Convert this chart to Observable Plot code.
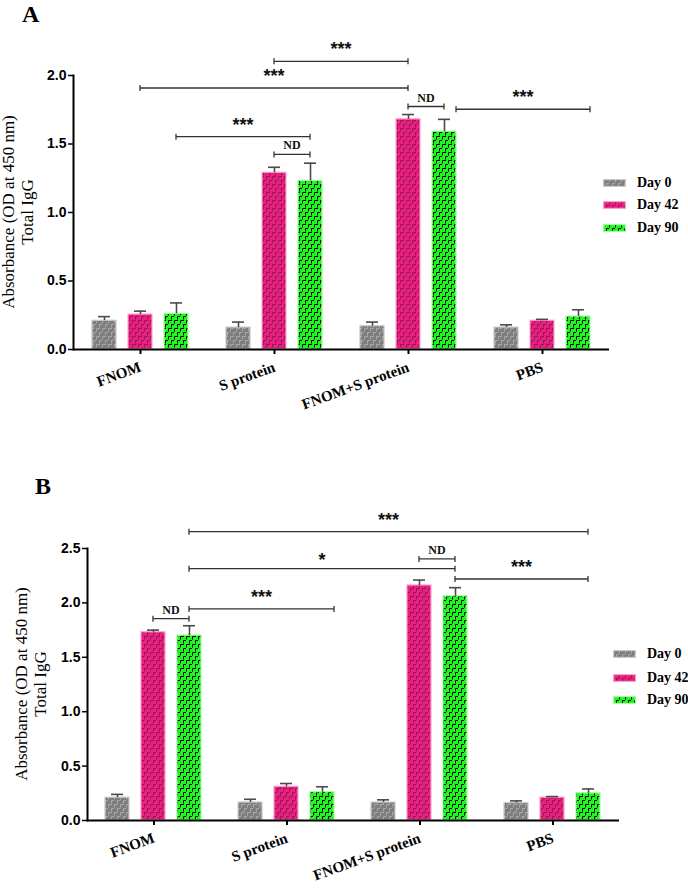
<!DOCTYPE html>
<html>
<head>
<meta charset="utf-8">
<script src="https://cdn.jsdelivr.net/npm/d3@7"></script>
<script src="https://cdn.jsdelivr.net/npm/@observablehq/plot@0.6"></script>
<style>
  html, body { margin: 0; padding: 0; background: #fff; }
  #wrap { position: relative; width: 688px; height: 891px; overflow: hidden; background: #fff; }
  .abs { position: absolute; }
  .letter { font-family: "Liberation Serif", serif; font-weight: bold; font-size: 24px; line-height: 1; }
  .ytitle { font-family: "Liberation Serif", serif; font-size: 17px; line-height: 19px; text-align: center;
            white-space: nowrap; transform: translate(-50%, -50%) rotate(-90deg); }
  .leg { font-family: "Liberation Serif", serif; font-weight: bold; font-size: 14px; display: flex; align-items: center;
         transform: translateY(-50%); white-space: nowrap; }
  .leg svg { margin-right: 11px; }
</style>
</head>
<body>
<svg width="0" height="0" style="position:absolute">
  <defs>
    <pattern id="pat0" patternUnits="userSpaceOnUse" width="6" height="8">
      <rect width="6" height="8" fill="#7e7e7e"/>
      <path d="M0.5 0.5h3.5M0.5 0.5v3M3.5 4.5h3.5M3.5 4.5v3" stroke="#a9a9a9" stroke-width="1" fill="none"/>
    </pattern>
    <pattern id="pat42" patternUnits="userSpaceOnUse" width="6" height="8">
      <rect width="6" height="8" fill="#ea1f80"/>
      <path d="M0.5 0.5h3.5M0.5 0.5v3M3.5 4.5h3.5M3.5 4.5v3" stroke="#8e1a55" stroke-width="1" fill="none"/>
    </pattern>
    <pattern id="pat90" patternUnits="userSpaceOnUse" width="6" height="8">
      <rect width="6" height="8" fill="#1ff51f"/>
      <path d="M0.5 0.5h3.5M0.5 0.5v3M3.5 4.5h3.5M3.5 4.5v3" stroke="#000" stroke-width="1" fill="none"/>
    </pattern>
  </defs>
</svg>
<div id="wrap"></div>
<script>
// ---------- data ----------
const groups = ["FNOM", "S protein", "FNOM+S protein", "PBS"];
const days = ["Day 0", "Day 42", "Day 90"];

// Panel A (mean and upper error, SEM)
const day0A  = [0.21, 0.16, 0.17, 0.16];
const err0A  = [0.03, 0.04, 0.03, 0.02];
const day42A = [0.255, 1.29, 1.68, 0.21];
const err42A = [0.025, 0.04, 0.035, 0.01];
const day90A = [0.26, 1.23, 1.59, 0.24];
const err90A = [0.08, 0.13, 0.09, 0.05];
const yTicksA = [0, 0.5, 1.0, 1.5, 2.0];

// Panel B
const day0B  = [0.21, 0.165, 0.165, 0.16];
const err0B  = [0.03, 0.03, 0.025, 0.02];
const day42B = [1.73, 0.31, 2.16, 0.21];
const err42B = [0.02, 0.03, 0.05, 0.01];
const day90B = [1.70, 0.26, 2.06, 0.25];
const err90B = [0.09, 0.05, 0.08, 0.04];
const yTicksB = [0, 0.5, 1.0, 1.5, 2.0, 2.5];

// significance brackets: from (g1,d1) to (g2,d2) at height y
const bracketsA = [
  {g1: "S protein", d1: "Day 42", s1: "center", g2: "FNOM+S protein", d2: "Day 42", s2: "center", y: 2.10, label: "***"},
  {g1: "FNOM", d1: "Day 42", s1: "center", g2: "FNOM+S protein", d2: "Day 42", s2: "center", y: 1.905, label: "***"},
  {g1: "FNOM", d1: "Day 90", s1: "center", g2: "S protein", d2: "Day 90", s2: "center", y: 1.55, label: "***"},
  {g1: "S protein", d1: "Day 42", s1: "center", g2: "S protein", d2: "Day 90", s2: "center", y: 1.42, label: "ND"},
  {g1: "FNOM+S protein", d1: "Day 42", s1: "center", g2: "FNOM+S protein", d2: "Day 90", s2: "center", y: 1.77, label: "ND"},
  {g1: "FNOM+S protein", d1: "Day 90", s1: "edge", g2: "PBS", d2: "Day 90", s2: "edge", y: 1.75, label: "***"}
];
const bracketsB = [
  {g1: "FNOM", d1: "Day 90", s1: "center", g2: "PBS", d2: "Day 90", s2: "center", y: 2.65, label: "***"},
  {g1: "FNOM", d1: "Day 90", s1: "center", g2: "FNOM+S protein", d2: "Day 90", s2: "center", y: 2.31, label: "*"},
  {g1: "FNOM", d1: "Day 90", s1: "center", g2: "S protein", d2: "Day 90", s2: "edge", y: 1.94, label: "***"},
  {g1: "FNOM", d1: "Day 42", s1: "center", g2: "FNOM", d2: "Day 90", s2: "center", y: 1.85, label: "ND"},
  {g1: "FNOM+S protein", d1: "Day 42", s1: "center", g2: "FNOM+S protein", d2: "Day 90", s2: "center", y: 2.40, label: "ND"},
  {g1: "FNOM+S protein", d1: "Day 90", s1: "center", g2: "PBS", d2: "Day 90", s2: "center", y: 2.215, label: "***"}
];

// ---------- styles ----------
const fills = ["url(#pat0)", "url(#pat42)", "url(#pat90)"];
const borders = {"Day 0": "#c9c9c9", "Day 42": "#ff9fcd", "Day 90": "#9dff9d"};
const SERIF = "Liberation Serif, Times New Roman, serif";
const SANS = "Liberation Sans, Arial, sans-serif";

function bracketRender(data) {
  return function (index, scales, values, dims) {
    const fx = scales.fx ?? scales.scales?.fx?.scale;
    const x = scales.x, y = scales.y;
    const bw = x.bandwidth();
    const g = d3.create("svg:g");
    for (const i of index) {
      const d = data[i];
      const px = (gr, day, side) => fx(gr) - fx(d.g1) + x(day) + bw * (side === "edge" ? 1 : 0.5);
      const x1 = px(d.g1, d.d1, d.s1), x2 = px(d.g2, d.d2, d.s2), yy = y(d.y);
      g.append("line").attr("x1", x1).attr("x2", x2).attr("y1", yy).attr("y2", yy)
        .attr("stroke", "#333").attr("stroke-width", 1.3);
      for (const xe of [x1, x2]) {
        g.append("line").attr("x1", xe).attr("x2", xe).attr("y1", yy - 3).attr("y2", yy + 3)
          .attr("stroke", "#333").attr("stroke-width", 1.3);
      }
      const nd = d.label === "ND";
      g.append("text").attr("x", (x1 + x2) / 2)
        .attr("y", yy - (nd ? 5 : d.label === "*" ? 3 : 6))
        .attr("text-anchor", "middle")
        .attr("font-family", nd ? SERIF : SANS)
        .attr("font-weight", "bold")
        .attr("font-size", nd ? 12 : 18)
        .attr("fill", "#111")
        .text(d.label);
    }
    return g.node();
  };
}

function panel(v0, e0, v42, e42, v90, e90, ticks, brackets, dim) {
  const series = [[v0, e0], [v42, e42], [v90, e90]];
  const rows = [];
  groups.forEach((g, i) => days.forEach((d, j) =>
    rows.push({group: g, day: d, value: series[j][0][i], upper: series[j][0][i] + series[j][1][i]})));
  const yMax = ticks[ticks.length - 1];
  return Plot.plot({
    width: 688, height: dim.height,
    marginLeft: dim.left, marginRight: dim.right, marginTop: dim.top, marginBottom: dim.bottom,
    style: {background: "transparent", color: "#000", fontFamily: SERIF},
    fx: {domain: groups, padding: 0, axis: null, label: null},
    x: {domain: days, paddingInner: 0.33, paddingOuter: 0.5, axis: null, label: null},
    y: {domain: [0, yMax], axis: null, label: null},
    color: {domain: days, range: fills},
    marks: [
      Plot.barY(rows, {fx: "group", x: "day", y: "value", fill: "day",
        stroke: d => borders[d.day], strokeWidth: 1.2}),
      Plot.ruleX(rows, {fx: "group", x: "day", y1: "value", y2: "upper", stroke: "#4a4a4a", strokeWidth: 1.6}),
      Plot.tickY(rows, {fx: "group", x: "day", y: "upper", inset: 6, stroke: "#4a4a4a", strokeWidth: 1.6}),
      Plot.ruleY([0], {stroke: "#000", strokeWidth: 2}),
      Plot.frame({anchor: "left", facetAnchor: "left", stroke: "#000", strokeWidth: 2}),
      Plot.axisY({ticks, tickSize: 5, tickPadding: 2, tickFormat: ".1f", fontSize: 14, fontWeight: "bold",
        fontFamily: SANS, label: null, strokeWidth: 1.5}),
      Plot.axisFx({anchor: "bottom", tickSize: 5, tickPadding: 12, tickRotate: -20, fontSize: 15,
        fontWeight: "bold", fontFamily: SERIF, label: null, strokeWidth: 2}),
      Plot.ruleY(brackets, {fx: "g1", y: "y", render: bracketRender(brackets)})
    ]
  });
}

const wrap = document.getElementById("wrap");
function place(node, left, top) {
  node.classList.add("abs");
  node.style.left = left + "px";
  node.style.top = top + "px";
  wrap.appendChild(node);
  return node;
}
function html(str) {
  const t = document.createElement("div");
  t.innerHTML = str.trim();
  return t.firstChild;
}

// Panel A
place(panel(day0A, err0A, day42A, err42A, day90A, err90A, yTicksA, bracketsA,
  {height: 440, left: 73, right: 79, top: 75, bottom: 91}), 0, 0);
// Panel B
place(panel(day0B, err0B, day42B, err42B, day90B, err90B, yTicksB, bracketsB,
  {height: 431, left: 87, right: 69, top: 88, bottom: 71}), 0, 460);

place(html('<div class="letter">A</div>'), 22, 2);
place(html('<div class="letter">B</div>'), 35, 474);
place(html('<div class="ytitle">Absorbance (OD at 450 nm)<br>Total IgG</div>'), 18, 212);
place(html('<div class="ytitle">Absorbance (OD at 450 nm)<br>Total IgG</div>'), 31, 684);

function legend(x, ys) {
  days.forEach((d, j) => {
    place(html(`<div class="leg"><svg width="23" height="8"><rect x="0.6" y="0.6" width="21.8" height="6.8" fill="${fills[j]}" stroke="${borders[d]}" stroke-width="1.2"/></svg>${d}</div>`), x, ys[j]);
  });
}
legend(603, [183, 205, 228]);
legend(613, [654, 678, 700]);
</script>
</body>
</html>
